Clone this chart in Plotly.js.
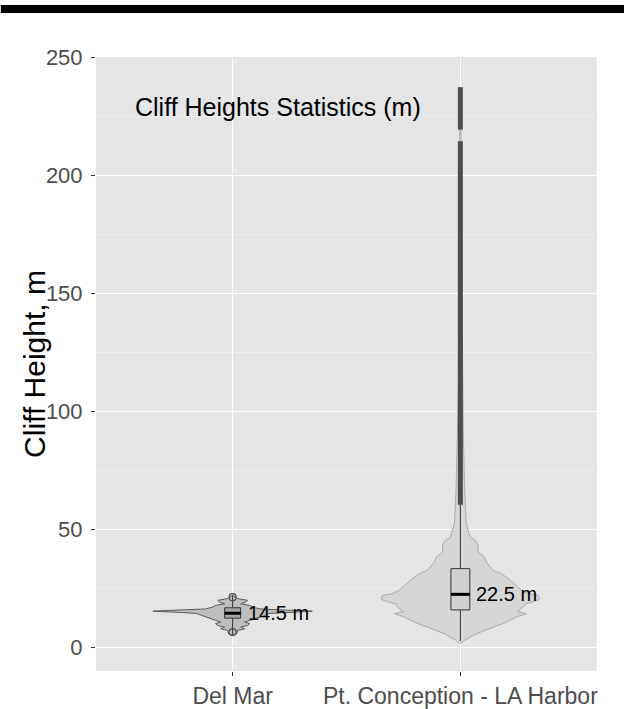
<!DOCTYPE html>
<html>
<head>
<meta charset="utf-8">
<script src="https://cdn.plot.ly/plotly-3.0.1.min.js"></script>
<style>html,body{margin:0;padding:0;background:#fff;}#chart{width:624px;height:709px;}</style>
</head>
<body>
<div id="chart"></div>
<script>
// ---- data ----
const categories = ['Del Mar', 'Pt. Conception - LA Harbor'];
const categoryPos = [1, 2];

// violin outline: height (m) and half-width (x units)
const delMarDensityY  = [5.1, 5.8, 7.2, 7.9, 8.6, 9.3, 10.1, 10.7, 11.5, 12.2, 12.9, 13.6, 14.4, 14.8, 15.1, 15.35, 15.6, 15.9, 16.3, 16.8, 17.1, 17.8, 18.5, 19.2, 19.95, 20.7, 22.1];
const delMarDensityHW = [0, 0.018, 0.022, 0.053, 0.035, 0.066, 0.075, 0.053, 0.075, 0.096, 0.118, 0.145, 0.16, 0.22, 0.30, 0.35, 0.30, 0.20, 0.12, 0.10, 0.088, 0.075, 0.035, 0.057, 0.066, 0.022, 0];

const ptConDensityY  = [1.6, 3.0, 5.8, 8.6, 10.7, 12.9, 14.3, 15.2, 17.1, 18.4, 19.2, 20.2, 20.7, 22.1, 22.7, 24.2, 27.0, 29.8, 31.5, 32.7, 35.0, 36.2, 38.3, 40.4, 43.3, 45.4, 46.5, 48.4, 52.6, 58.1, 66.6, 90, 110, 150, 200, 237.5];
const ptConDensityHW = [0, 0.019, 0.070, 0.143, 0.202, 0.246, 0.289, 0.250, 0.275, 0.285, 0.311, 0.345, 0.348, 0.341, 0.300, 0.268, 0.237, 0.202, 0.175, 0.143, 0.125, 0.114, 0.105, 0.078, 0.078, 0.066, 0.045, 0.038, 0.026, 0.023, 0.019, 0.013, 0.009, 0.007, 0.005, 0];

// box statistics
const q1Values     = [12.4, 15.9];
const medianValues = [14.5, 22.5];
const q3Values     = [16.8, 33.4];
const lowerWhisker = [5.3, 2.7];
const upperWhisker = [22.1, 60.5];
const medianLabels = ['14.5 m', '22.5 m'];

// outliers
const delMarOutliers = [21.3, 6.5];
const ptConOutlierRuns = [[60.5, 214.6], [219.5, 237.5]];

// ---- build traces ----
function violinTrace(pos, ys, hws, fill, line) {
  const x = [], y = [];
  for (let i = 0; i < ys.length; i++) { x.push(pos - hws[i]); y.push(ys[i]); }
  for (let i = ys.length - 1; i >= 0; i--) { x.push(pos + hws[i]); y.push(ys[i]); }
  return {type: 'scatter', mode: 'lines', x: x, y: y, fill: 'toself', fillcolor: fill,
          line: {color: line, width: 1}, hoverinfo: 'skip', showlegend: false};
}

const traces = [];
traces.push(violinTrace(categoryPos[0], delMarDensityY, delMarDensityHW, '#BEBEBE', '#5A5A5A'));
traces.push(violinTrace(categoryPos[1], ptConDensityY, ptConDensityHW, '#D6D6D6', '#ABABAB'));

// box plots (whiskers, box, median) drawn from the statistics arrays
const boxWidths = [0.07, 0.083];
const boxFills = ['#A6A6A6', '#D0D0D0'];
for (let i = 0; i < 2; i++) {
  const p = categoryPos[i], h = boxWidths[i] / 2;
  traces.push({type: 'scatter', mode: 'lines',
    x: [p, p, null, p, p], y: [lowerWhisker[i], q1Values[i], null, q3Values[i], upperWhisker[i]],
    line: {color: '#333333', width: 1}, hoverinfo: 'skip', showlegend: false});
  traces.push({type: 'scatter', mode: 'lines',
    x: [p - h, p + h, p + h, p - h, p - h], y: [q1Values[i], q1Values[i], q3Values[i], q3Values[i], q1Values[i]],
    fill: 'toself', fillcolor: boxFills[i], line: {color: '#333333', width: 1},
    hoverinfo: 'skip', showlegend: false});
  traces.push({type: 'scatter', mode: 'lines',
    x: [p - h, p + h], y: [medianValues[i], medianValues[i]], line: {color: '#000000', width: 3},
    hoverinfo: 'skip', showlegend: false});
}

// outlier column for Pt. Conception
const runX = [], runY = [];
ptConOutlierRuns.forEach(r => { runX.push(categoryPos[1], categoryPos[1], null); runY.push(r[0], r[1], null); });
traces.push({type: 'scatter', mode: 'lines', x: runX, y: runY, line: {color: '#4D4D4D', width: 5},
             hoverinfo: 'skip', showlegend: false});

traces.push({type: 'scatter', mode: 'markers', x: delMarOutliers.map(() => categoryPos[0]), y: delMarOutliers,
  marker: {symbol: 'circle-open', size: 7, color: '#4D4D4D', line: {width: 1.2}}, hoverinfo: 'skip', showlegend: false});

const FONT = 'Liberation Sans, Arial, sans-serif';
const annotations = medianLabels.map((t, i) => ({
  text: t, x: categoryPos[i] + 0.058, y: medianValues[i], xref: 'x', yref: 'y',
  xanchor: 'left', yanchor: 'middle', showarrow: false,
  font: {family: FONT, size: 20, color: '#000000'}
}));
annotations.push({text: 'Cliff Heights Statistics (m)', x: 0.562, y: 229, xref: 'x', yref: 'y',
  xanchor: 'left', yanchor: 'middle', showarrow: false,
  font: {family: FONT, size: 25, color: '#000000'}});
// y axis title placed precisely
annotations.push({text: 'Cliff Height, m', x: -0.124, y: 0.5, xref: 'paper', yref: 'paper',
  xanchor: 'center', yanchor: 'middle', textangle: -90, showarrow: false,
  font: {family: FONT, size: 30, color: '#000000'}});

const layout = {
  width: 624, height: 709,
  margin: {l: 96, r: 27, t: 57, b: 38},
  paper_bgcolor: '#FFFFFF', plot_bgcolor: '#E5E5E5',
  font: {family: FONT},
  showlegend: false, hovermode: false,
  xaxis: {
    type: 'linear', range: [0.4, 2.6], tickmode: 'array', tickvals: categoryPos, ticktext: categories,
    showgrid: true, gridcolor: '#FFFFFF', gridwidth: 1.2, zeroline: false,
    ticks: 'outside', ticklen: 4, tickcolor: '#333333', tickwidth: 1, ticklabelstandoff: 0,
    tickfont: {size: 23, color: '#4D4D4D'}, showline: false
  },
  yaxis: {
    range: [-10, 250.3], tickmode: 'array', tickvals: [0, 50, 100, 150, 200, 250],
    showgrid: true, gridcolor: '#FFFFFF', gridwidth: 1.2, zeroline: false,
    minor: {tickvals: [25, 75, 125, 175, 225], showgrid: true, gridcolor: '#F2F2F2', gridwidth: 0.6, ticks: ''},
    ticks: 'outside', ticklen: 4, tickcolor: '#333333', tickwidth: 1, ticklabelstandoff: 4,
    tickfont: {size: 22, color: '#4D4D4D'}
  },
  shapes: [{type: 'rect', xref: 'paper', yref: 'paper', x0: -0.19, x1: 1.06, y0: 1.0717, y1: 1.0847,
            fillcolor: '#000000', line: {width: 0}, layer: 'above'}],
  annotations: annotations
};

Plotly.newPlot('chart', traces, layout, {displayModeBar: false, staticPlot: true});
</script>
</body>
</html>
